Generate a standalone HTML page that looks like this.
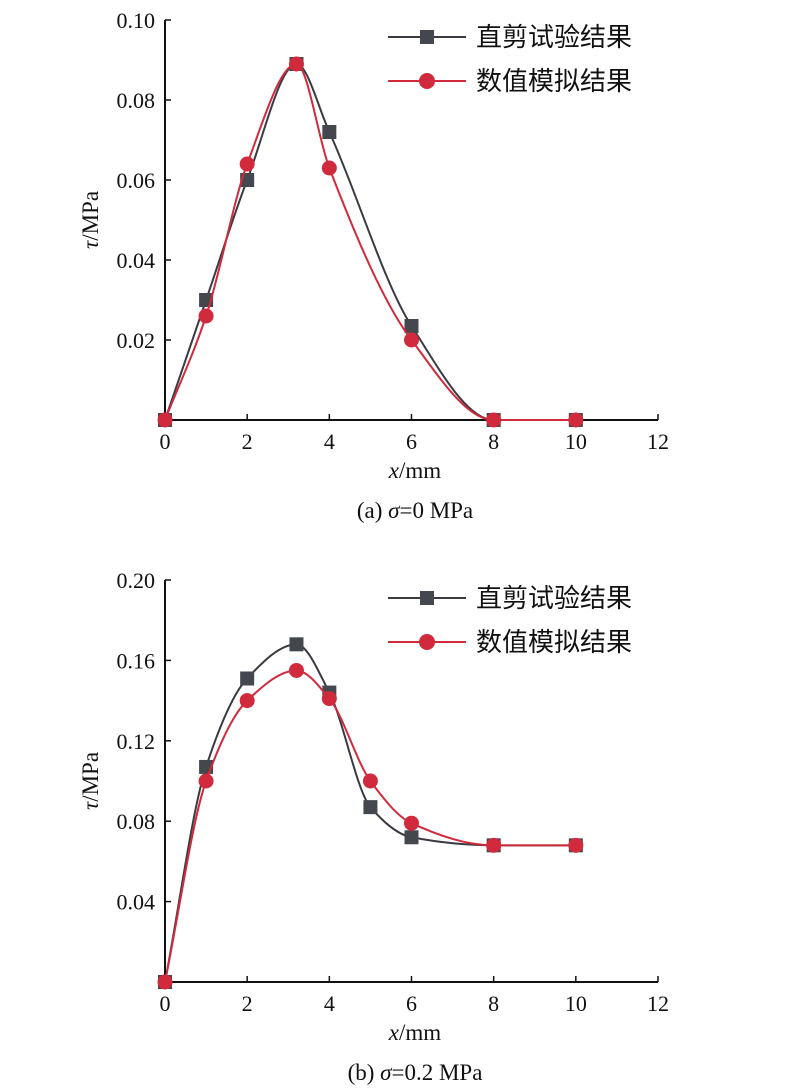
<!DOCTYPE html>
<html><head><meta charset="utf-8"><style>
body{margin:0;background:#fff}
svg{display:block}
text{font-family:"Liberation Serif","Noto Serif CJK SC",serif;fill:#111}
.cjk{font-family:"Noto Sans CJK SC","WenQuanYi Zen Hei",sans-serif}
</style></head><body>
<svg id="s" width="800" height="1090" viewBox="0 0 800 1090"></svg>
<script>
const xTicks=[0,2,4,6,8,10,12];
const aYTicks=[0.02,0.04,0.06,0.08,0.10];
const aYLabels=["0.02","0.04","0.06","0.08","0.10"];
const bYTicks=[0.04,0.08,0.12,0.16,0.20];
const bYLabels=["0.04","0.08","0.12","0.16","0.20"];
const aX=[0,1,2,3.2,4,6,8,10];
const aTest=[0,0.030,0.060,0.089,0.072,0.0235,0,0];
const aSim=[0,0.026,0.064,0.089,0.063,0.020,0,0];
const bX=[0,1,2,3.2,4,5,6,8,10];
const bTest=[0,0.107,0.151,0.168,0.144,0.087,0.072,0.068,0.068];
const bSim=[0,0.100,0.140,0.155,0.141,0.100,0.079,0.068,0.068];
const legendNames=["直剪试验结果","数值模拟结果"];
const NS="http://www.w3.org/2000/svg";
const svg=document.getElementById('s');
function mk(t,a,p){const e=document.createElementNS(NS,t);for(const k in a)e.setAttribute(k,a[k]);(p||svg).appendChild(e);return e;}
function smooth(pts){
 const n=pts.length,dx=[],s=[],m=[];
 for(let i=0;i<n-1;i++){dx[i]=pts[i+1][0]-pts[i][0];s[i]=(pts[i+1][1]-pts[i][1])/dx[i];}
 m[0]=s[0];m[n-1]=s[n-2];
 for(let i=1;i<n-1;i++){m[i]=(s[i-1]*s[i]<=0)?0:3*(dx[i-1]+dx[i])/((2*dx[i]+dx[i-1])/s[i-1]+(dx[i]+2*dx[i-1])/s[i]);}
 let d=`M${pts[0][0]},${pts[0][1]}`;
 for(let i=0;i<n-1;i++){const h=dx[i]/3;d+=` C${pts[i][0]+h},${pts[i][1]+m[i]*h} ${pts[i+1][0]-h},${pts[i+1][1]-m[i+1]*h} ${pts[i+1][0]},${pts[i+1][1]}`;}
 return d;}
function panel(o){
 const g=mk('g',{});
 const X0=165,X1=658,Y0=o.y0,Y1=o.y1;
 const sx=v=>X0+(X1-X0)*v/12, sy=v=>Y0-(Y0-Y1)*v/o.ymax;
 const ax=mk('path',{d:`M${X0},${Y1}V${Y0}H${X1}`,stroke:'#111','stroke-width':2,fill:'none'},g);
 xTicks.forEach(v=>{if(v>0)mk('line',{x1:sx(v),x2:sx(v),y1:Y0,y2:Y0-6,stroke:'#111','stroke-width':1.5},g);
  const t=mk('text',{x:sx(v),y:Y0+29,'text-anchor':'middle','font-size':22},g);t.textContent=v;});
 o.yt.forEach((v,i)=>{mk('line',{x1:X0,x2:X0+6,y1:sy(v),y2:sy(v),stroke:'#111','stroke-width':1.5},g);
  const t=mk('text',{x:X0-10,y:sy(v)+8,'text-anchor':'end','font-size':22},g);t.textContent=o.yl[i];});
 const yl=mk('text',{transform:`translate(98,${(Y0+Y1)/2}) rotate(-90)`,'text-anchor':'middle','font-size':23},g);yl.innerHTML='<tspan font-style="italic">τ</tspan>/MPa';
 const xl=mk('text',{x:415,y:Y0+58,'text-anchor':'middle','font-size':23},g);xl.innerHTML='<tspan font-style="italic">x</tspan>/mm';
 const cp=mk('text',{x:415,y:Y0+98,'text-anchor':'middle','font-size':23},g);cp.innerHTML=o.cap;
 const ser=[[o.test,'#3a3b42','sq'],[o.sim,'#d02a3c','ci']];
 ser.forEach(([vals,c,m],si)=>{const pts=o.xs.map((x,i)=>[sx(x),sy(vals[i])]);
  const p=mk('path',{d:smooth(pts),stroke:c,'stroke-width':2,fill:'none'},g);
  pts.forEach(q=>{let e;if(m=='sq')e=mk('rect',{x:q[0]-7,y:q[1]-7,width:14,height:14,fill:'#45474f'},g);else e=mk('circle',{cx:q[0],cy:q[1],r:7.5,fill:c},g);
   });
  const ly=o.ly+si*44;
  const lg=mk('g',{},g);
  mk('line',{x1:388,x2:466,y1:ly,y2:ly,stroke:c,'stroke-width':2},lg);
  if(m=='sq')mk('rect',{x:420,y:ly-7,width:14,height:14,fill:'#45474f'},lg);else mk('circle',{cx:427,cy:ly,r:8,fill:c},lg);
  const t=mk('text',{x:476,y:ly+9,'font-size':26,class:'cjk'},lg);t.textContent=legendNames[si];});
}
panel({name:'panel-a',y0:420,y1:20,ymax:0.10,yt:aYTicks,yl:aYLabels,xs:aX,test:aTest,sim:aSim,ly:37,cap:'(a) <tspan font-style="italic">σ</tspan>=0 MPa'});
panel({name:'panel-b',y0:982,y1:580,ymax:0.20,yt:bYTicks,yl:bYLabels,xs:bX,test:bTest,sim:bSim,ly:598,cap:'(b) <tspan font-style="italic">σ</tspan>=0.2 MPa'});
</script>
</body></html>
